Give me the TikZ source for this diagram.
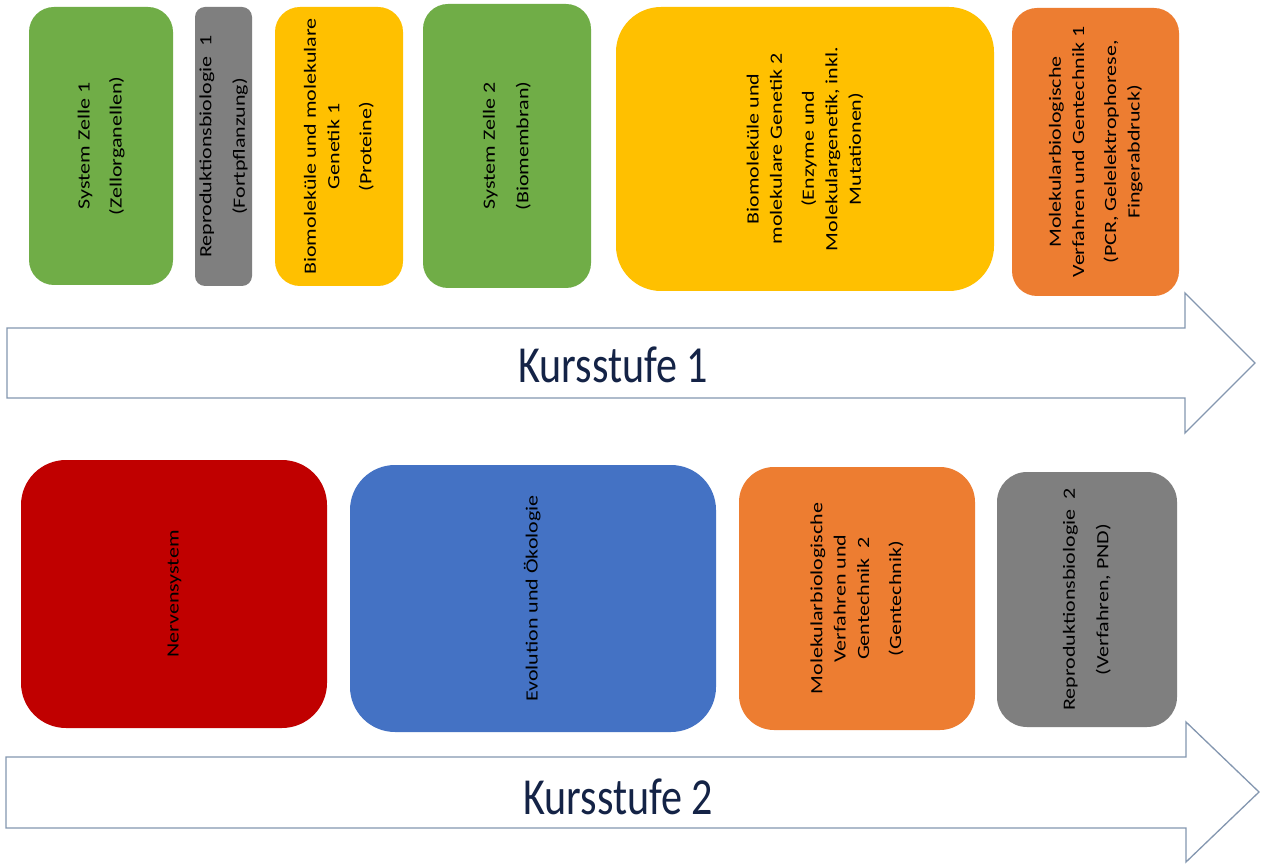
\documentclass[tikz,border=0pt]{standalone}
\usepackage{fontspec}
\setmainfont{Carlito}
\usepackage{graphicx}
\definecolor{cgreen}{HTML}{70AD47}
\definecolor{cgray}{HTML}{7F7F7F}
\definecolor{cyellow}{HTML}{FFC000}
\definecolor{corange}{HTML}{ED7D31}
\definecolor{cred}{HTML}{C00000}
\definecolor{cblue}{HTML}{4472C4}
\definecolor{arrline}{HTML}{8497B0}
\definecolor{navy}{HTML}{142346}
\newcommand{\vtxt}[1]{\scalebox{1}[0.78]{\begin{tabular}{@{}c@{}}#1\end{tabular}}}
\tikzset{
  topic/.style={rotate=90, inner sep=0pt, text=black,
    font=\fontsize{22}{30}\selectfont},
  bigarrow/.style={draw=arrline, line width=1.3pt, fill=white, line join=miter},
  stufe/.style={text=navy, inner sep=0pt, font=\fontsize{52}{60}\selectfont}
}
\begin{document}
\begin{tikzpicture}[x=1pt,y=-1pt]
\useasboundingbox (0,0) rectangle (1261,866);
\fill[white] (0,0) rectangle (1261,866);

% Arrow 1
\draw[bigarrow] (7,328) -- (1185,328) -- (1185,293) -- (1255,363) -- (1185,433) -- (1185,398) -- (7,398) -- cycle;
\node[stufe] (k1) at (613,365) {\scalebox{0.81}[1]{Kursstufe 1}};

% Arrow 2
\draw[bigarrow] (6,757) -- (1186,757) -- (1186,722) -- (1259,792) -- (1186,862) -- (1186,828) -- (6,828) -- cycle;
\node[stufe] (k2) at (618,797) {\scalebox{0.81}[1]{Kursstufe 2}};

% Row 1
\node[topic, fill=cgreen, rounded corners=25pt, minimum width=278pt, minimum height=144pt] (sz1) at (101,146)
  {\vtxt{System Zelle 1\\[11pt] (Zellorganellen)}};
\node[topic, fill=cgray, rounded corners=10pt, minimum width=279pt, minimum height=57pt] (rb1) at (223.5,146.5)
  {\vtxt{Reproduktionsbiologie\ \ 1\\[13pt] (Fortpflanzung)}};
\node[topic, fill=cyellow, rounded corners=25pt, minimum width=279pt, minimum height=128pt] (bm1) at (339,146.5)
  {\vtxt{Biomoleküle und molekulare\\ Genetik 1\\[11pt] (Proteine)}};
\node[topic, fill=cgreen, rounded corners=25pt, minimum width=284pt, minimum height=168pt] (sz2) at (507,146)
  {\vtxt{System Zelle 2\\[13pt] (Biomembran)}};
\node[topic, fill=cyellow, rounded corners=45pt, minimum width=284pt, minimum height=378pt] (bm2) at (805,149)
  {\vtxt{Biomoleküle und\\ molekulare Genetik 2\\[11pt] (Enzyme und\\ Molekulargenetik, inkl.\\ Mutationen)}};
\node[topic, fill=corange, rounded corners=25pt, minimum width=288pt, minimum height=167pt] (mv1) at (1095.5,152)
  {\vtxt{Molekularbiologische\\ Verfahren und Gentechnik 1\\[11pt] (PCR, Gelelektrophorese,\\ Fingerabdruck)}};

% Row 2
\node[topic, fill=cred, rounded corners=45pt, minimum width=268pt, minimum height=306pt] (nerv) at (174,594)
  {\vtxt{Nervensystem}};
\node[topic, fill=cblue, rounded corners=45pt, minimum width=267pt, minimum height=366pt] (evo) at (533,598.5)
  {\vtxt{Evolution und Ökologie}};
\node[topic, fill=corange, rounded corners=35pt, minimum width=263pt, minimum height=236pt] (mv2) at (857,598.5)
  {\vtxt{Molekularbiologische\\ Verfahren und\\ Gentechnik\ \ 2\\[11pt] (Gentechnik)}};
\node[topic, fill=cgray, rounded corners=30pt, minimum width=255pt, minimum height=180pt] (rb2) at (1087,599.5)
  {\vtxt{Reproduktionsbiologie\ \ 2\\[13pt] (Verfahren,\ PND)}};
\end{tikzpicture}
\end{document}
